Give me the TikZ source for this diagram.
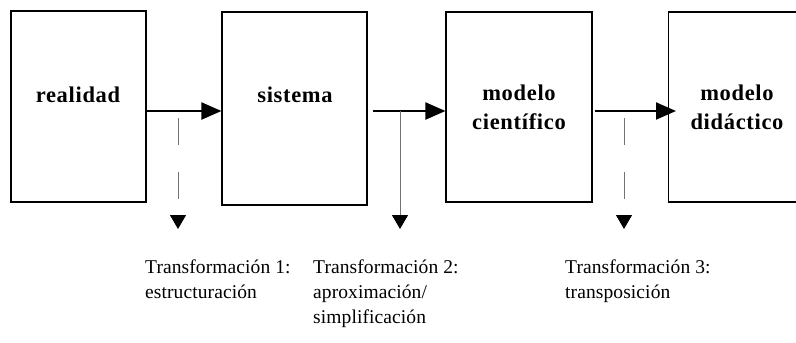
\documentclass[tikz,border=0pt]{standalone}
\usepackage{fontspec}
\setmainfont{Liberation Serif}
\newfontfamily\stagefont[LetterSpace=3]{Liberation Serif}
\newfontfamily\transfont[LetterSpace=0.5]{Liberation Serif}
\usetikzlibrary{arrows.meta}

\begin{document}
\begin{tikzpicture}[x=1pt, y=-1pt,
    stage/.style={draw, line width=1.1pt, inner sep=0pt},
    stagelbl/.style={font=\stagefont\bfseries\fontsize{22.5}{29}\selectfont, align=center, anchor=base},
    flow/.style={line width=2pt, -{Triangle[length=20pt,width=17pt]}},
    trans/.style={black!55, line width=1pt, -{Triangle[length=14pt,width=16pt,color=black]}},
    gapped/.style={dash pattern=on 27pt off 27pt},
    translbl/.style={font=\transfont\fontsize{19.5}{25}\selectfont, align=left, anchor=north west, inner sep=0pt}]
  \useasboundingbox (0,0) rectangle (796,343);
  \clip (0,0) rectangle (796,343);
  % the four stages (the last one runs off the page)
  \node[stage, minimum width=135pt, minimum height=191pt] (realidad) at (78.5,106.5) {};
  \node[stage, minimum width=145pt, minimum height=193pt] (sistema) at (294.5,108.5) {};
  \node[stage, minimum width=146pt, minimum height=190pt] (cientifico) at (519,107) {};
  \node[stage, minimum width=160pt, minimum height=190pt, anchor=west] (didactico) at (668,107) {};
  \node[stagelbl] (lrealidad) at (78,102) {realidad};
  \node[stagelbl] (lsistema) at (295,102) {sistema};
  \node[stagelbl] (lcientifico) at (519,129) {modelo\\científico};
  \node[stagelbl] (ldidactico) at (737,129) {modelo\\didáctico};
  % main flow
  \draw[flow] (realidad.east |- 0,111) -- (sistema.west |- 0,111);
  \draw[flow, shorten <=5pt] (sistema.east |- 0,111) -- (cientifico.west |- 0,111);
  \draw[flow, shorten <=2pt, shorten >=-8pt] (cientifico.east |- 0,111) -- (didactico.west |- 0,111);
  % transformations
  \coordinate (t1a) at (178,118);
  \coordinate (t1b) at (178,229);
  \coordinate (t2a) at (400,111);
  \coordinate (t2b) at (400,229);
  \coordinate (t3a) at (624,118);
  \coordinate (t3b) at (624,229);
  \draw[trans, gapped] (t1a) -- (t1b);
  \draw[trans] (t2a) -- (t2b);
  \draw[trans, gapped] (t3a) -- (t3b);
  \node[translbl] (tr1) at (145,260) {Transformación 1:\\estructuración};
  \node[translbl] (tr2) at (313,260) {Transformación 2:\\aproximación/\\simplificación};
  \node[translbl] (tr3) at (565,260) {Transformación 3:\\transposición};
\end{tikzpicture}
\end{document}
